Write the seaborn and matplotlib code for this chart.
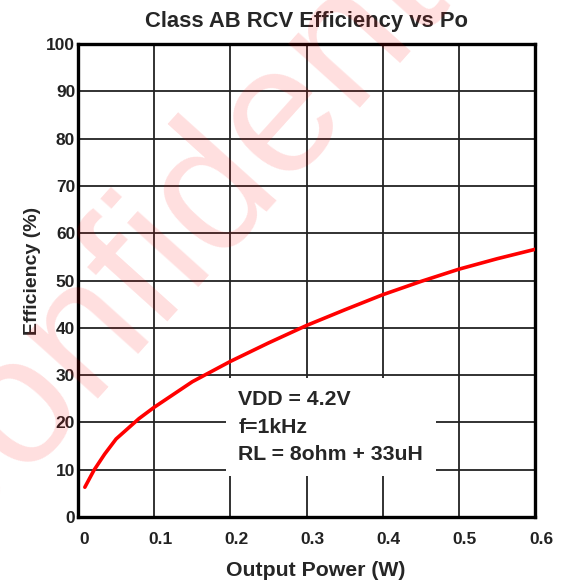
import matplotlib
matplotlib.use("Agg")
import matplotlib.pyplot as plt
import matplotlib.transforms as mtransforms
import seaborn as sns
import pandas as pd

# efficiency curve
output_power = [0.009, 0.021, 0.035, 0.05, 0.08, 0.1, 0.15, 0.2, 0.25, 0.3, 0.35, 0.4, 0.45, 0.5, 0.55, 0.6]
efficiency = [6.3, 9.9, 13.3, 16.5, 20.8, 23.2, 28.6, 32.9, 36.8, 40.5, 43.8, 47.0, 49.8, 52.4, 54.6, 56.6]
x_ticks = [0, 0.1, 0.2, 0.3, 0.4, 0.5, 0.6]
x_labels = ["0", "0.1", "0.2", "0.3", "0.4", "0.5", "0.6"]
y_ticks = [0, 10, 20, 30, 40, 50, 60, 70, 80, 90, 100]
conditions = "VDD = 4.2V\nf=1kHz\nRL = 8ohm + 33uH"

df = pd.DataFrame({"Po": output_power, "Eff": efficiency})

sns.set_style("white")
plt.rcParams['font.family'] = ['Liberation Sans', 'DejaVu Sans']
plt.rcParams['font.weight'] = 'bold'

fig = plt.figure(figsize=(5.61, 5.85), dpi=100)
ax = fig.add_axes([0.139, 0.1162, 0.815, 0.8086])

sns.lineplot(data=df, x="Po", y="Eff", ax=ax, color="#ff0000", linewidth=2.6, zorder=3)

ax.set_xlim(0, 0.6)
ax.set_ylim(0, 100)
ax.set_xticks(x_ticks)
ax.set_xticklabels(x_labels, fontsize=12.5, fontweight='bold', color='#222222')
ax.set_yticks(y_ticks)
ax.set_yticklabels([str(v) for v in y_ticks], fontsize=12.5, fontweight='bold', color='#222222')
ax.tick_params(axis='both', length=0)
ax.tick_params(axis='x', pad=11)
ax.tick_params(axis='y', pad=2)
# x labels sit a little right of their grid lines
shift = mtransforms.ScaledTranslation(0.06, 0, fig.dpi_scale_trans)
for lab in ax.get_xticklabels():
    lab.set_transform(lab.get_transform() + shift)
ax.grid(True, color='#222222', linewidth=1.3)
ax.set_axisbelow(True)
for s in ax.spines.values():
    s.set_linewidth(2.4)
    s.set_color('black')

ax.set_title("Class AB RCV Efficiency vs Po", fontsize=15.8, fontweight='bold', pad=12)
ax.set_xlabel("Output Power (W)", fontsize=15.3, fontweight='bold', labelpad=10)
ax.xaxis.label.set_x(0.52)
ax.set_ylabel("Efficiency (%)", fontsize=14, fontweight='bold', labelpad=4)
ax.yaxis.label.set_y(0.52)

ax.text(0.2105, 19.0, conditions, fontsize=15.3, fontweight='bold', linespacing=1.55,
        va='center', ha='left', zorder=4,
        bbox=dict(facecolor='white', edgecolor='none', pad=9))

# watermark
fig.text(0.387, 0.682, "Confidential", fontsize=130, color='#ff0000', alpha=0.13,
         rotation=48, ha='center', va='center', fontweight='normal', zorder=10)

fig.savefig("out.png", dpi=100)
